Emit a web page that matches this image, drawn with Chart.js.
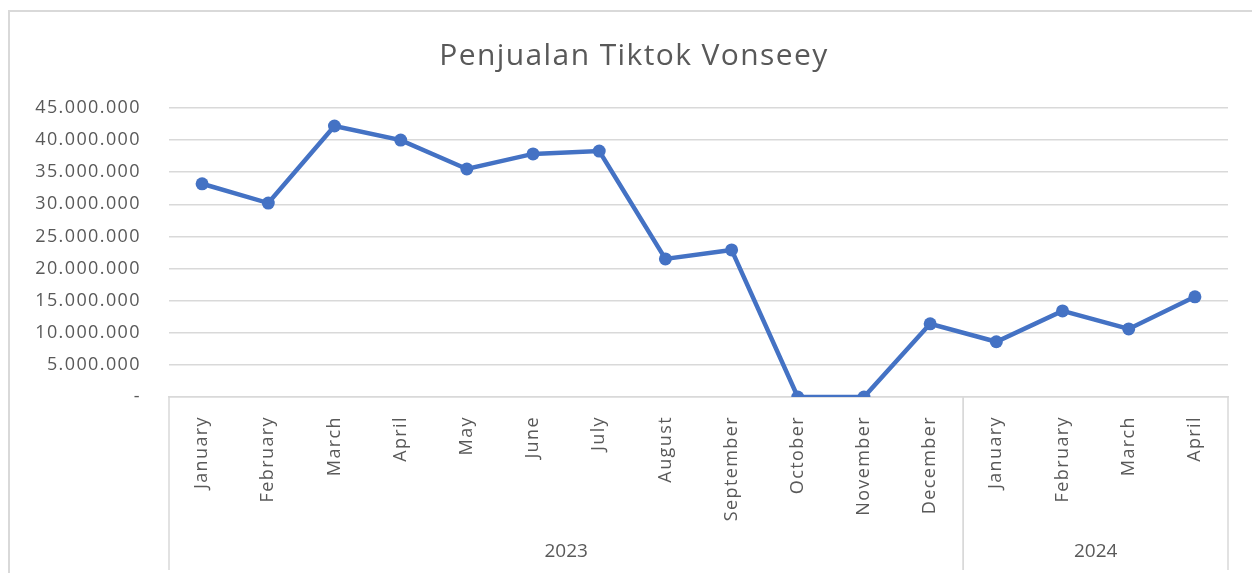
<!DOCTYPE html>
<html>
<head>
<meta charset="utf-8">
<script src="https://cdn.jsdelivr.net/npm/chart.js@4"></script>
<style>
  html, body { margin: 0; padding: 0; background: #fff; }
  #wrap { width: 1252px; height: 573px; }
</style>
</head>
<body>
<div id="wrap"><canvas id="chart" width="1252" height="573"></canvas></div>
<script>
// Penjualan Tiktok Vonseey - monthly sales

const months = ['January', 'February', 'March', 'April', 'May', 'June', 'July', 'August',
  'September', 'October', 'November', 'December', 'January', 'February', 'March', 'April'];
const years = ['2023', '2024'];
const monthsPerYear = [12, 4];
const sales = [33200000, 30200000, 42200000, 40000000, 35500000, 37850000, 38300000, 21500000,
  22900000, 0, 0, 11400000, 8600000, 13400000, 10600000, 15600000];

const textColor = '#595959';
const lineColor = '#d9d9d9';
const fontFamily = "'Open Sans', 'Noto Sans', sans-serif";

function formatNumber(v) {
  if (v === 0) return '-';
  return v.toString().replace(/\B(?=(\d{3})+(?!\d))/g, '.');
}

// wider letter spacing, like the original
const spacingPlugin = {
  id: 'spacing',
  beforeLayout(chart) { chart.ctx.letterSpacing = '1.4px'; },
  beforeDraw(chart) { chart.ctx.letterSpacing = '1.4px'; }
};

// outer frame of the chart
const framePlugin = {
  id: 'frame',
  beforeDraw(chart) {
    const ctx = chart.ctx;
    ctx.save();
    ctx.strokeStyle = lineColor;
    ctx.lineWidth = 2;
    ctx.beginPath();
    ctx.moveTo(9, chart.height + 5);
    ctx.lineTo(9, 11);
    ctx.lineTo(chart.width + 5, 11);
    ctx.stroke();
    ctx.restore();
  }
};

// second level of the category axis (years)
const yearAxisPlugin = {
  id: 'yearAxis',
  afterDraw(chart) {
    const ctx = chart.ctx;
    const x = chart.scales.x;
    const top = chart.chartArea.bottom;
    const bottom = chart.height - 3;
    const half = (x.getPixelForValue(1) - x.getPixelForValue(0)) / 2;
    ctx.save();
    ctx.letterSpacing = '0px';
    ctx.strokeStyle = lineColor;
    ctx.lineWidth = 1.5;
    ctx.fillStyle = textColor;
    ctx.font = '19px ' + fontFamily;
    ctx.textAlign = 'center';
    ctx.textBaseline = 'middle';
    let start = 0;
    years.forEach((year, i) => {
      const end = start + monthsPerYear[i] - 1;
      const left = x.getPixelForValue(start) - half;
      const right = x.getPixelForValue(end) + half;
      ctx.beginPath();
      ctx.moveTo(left, top);
      ctx.lineTo(left, bottom);
      ctx.moveTo(right, top);
      ctx.lineTo(right, bottom);
      ctx.stroke();
      ctx.fillText(year, (left + right) / 2, 552);
      start = end + 1;
    });
    ctx.restore();
  }
};

const ctx = document.getElementById('chart').getContext('2d');
const chart = new Chart(ctx, {
  type: 'line',
  data: {
    labels: months,
    datasets: [
      {
        label: 'Penjualan',
        data: sales,
        borderColor: '#4472C4',
        backgroundColor: '#4472C4',
        borderWidth: 4.5,
        pointRadius: 6.5,
        pointBorderWidth: 0,
        tension: 0
      }
    ]
  },
  options: {
    responsive: false,
    animation: false,
    layout: {
      padding: { left: 16, right: 0, top: 0, bottom: 0 }
    },
    plugins: {
      legend: { display: false },
      tooltip: { enabled: false },
      title: {
        display: true,
        text: 'Penjualan Tiktok Vonseey',
        color: textColor,
        font: { family: fontFamily, size: 30, weight: 'normal' },
        padding: { top: 38, bottom: 34 }
      }
    },
    scales: {
      x: {
        offset: true,
        grid: { display: false },
        border: { display: true, color: lineColor, width: 1.5 },
        ticks: {
          color: textColor,
          font: { family: fontFamily, size: 18 },
          minRotation: 90,
          maxRotation: 90,
          autoSkip: false,
          padding: 11
        },
        afterFit(scale) { scale.height = 176; }
      },
      y: {
        min: 0,
        max: 45000000,
        grid: { color: lineColor, lineWidth: 1.5, drawTicks: false },
        border: { display: false },
        ticks: {
          stepSize: 5000000,
          color: textColor,
          font: { family: fontFamily, size: 18 },
          padding: 28,
          callback: (v) => formatNumber(v)
        },
        afterFit(scale) { scale.width = 153; }
      },
      // empty right axis, only keeps the space right of the plot
      yRight: {
        position: 'right',
        min: 0,
        max: 45000000,
        grid: { display: false },
        border: { display: false },
        ticks: { display: false },
        afterFit(scale) { scale.width = 24; }
      }
    }
  },
  plugins: [spacingPlugin, framePlugin, yearAxisPlugin]
});
</script>
</body>
</html>
